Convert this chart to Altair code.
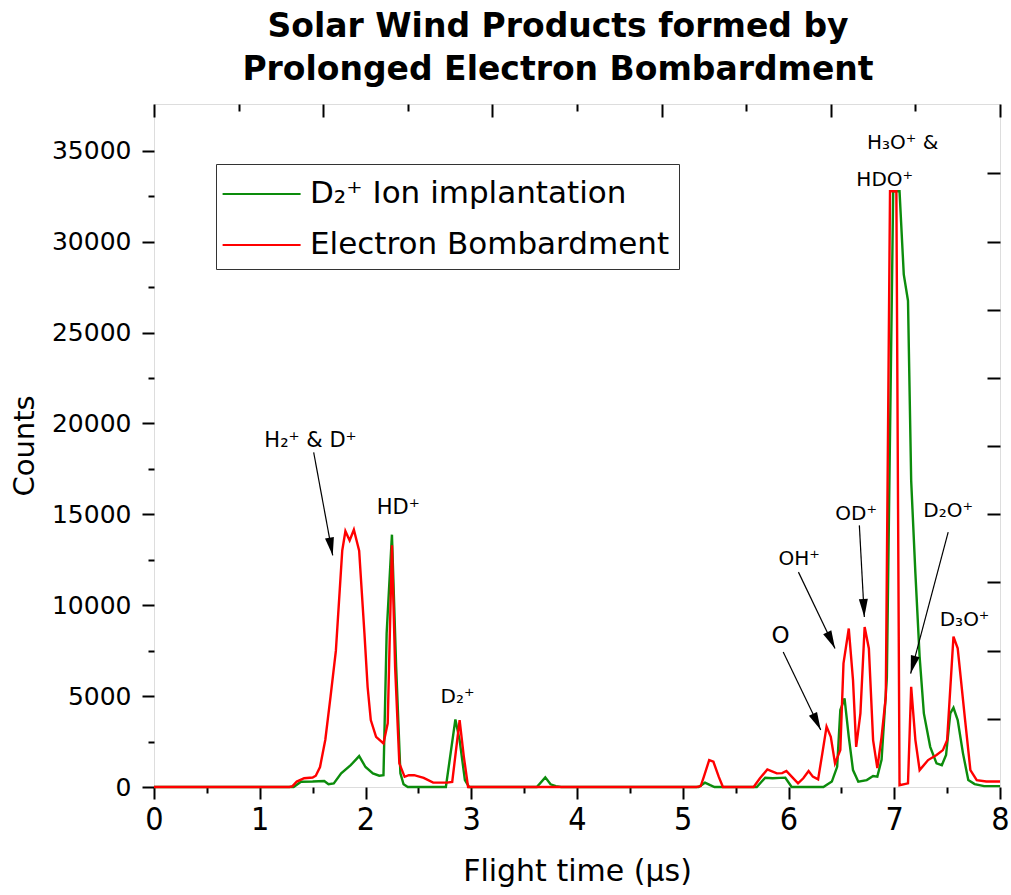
import math
import altair as alt
import pandas as pd

# ---------------- data ----------------
series_names = ["D₂⁺ Ion implantation", "Electron Bombardment"]
series_colors = ["#0c8c0c", "#ff0000"]

green_t = [0.0, 1.32, 1.39, 1.50, 1.61, 1.65, 1.70, 1.77, 1.86, 1.94, 2.00, 2.07, 2.13, 2.17,
           2.20, 2.25, 2.29, 2.33, 2.36, 2.40, 2.76, 2.85, 2.89, 2.94, 2.98, 3.62, 3.70, 3.75,
           3.80, 3.85, 5.15, 5.21, 5.26, 5.30, 5.70, 5.78, 5.85, 5.92, 5.97, 6.03, 6.33, 6.41,
           6.46, 6.49, 6.53, 6.57, 6.61, 6.66, 6.74, 6.80, 6.84, 6.88, 6.93, 6.99, 7.05, 7.09,
           7.13, 7.16, 7.20, 7.24, 7.28, 7.34, 7.40, 7.45, 7.49, 7.53, 7.56, 7.60, 7.65, 7.70,
           7.76, 7.85, 8.00]
green_c = [0, 0, 290, 300, 330, 150, 200, 750, 1200, 1700, 1100, 750, 620, 650,
           8450, 13880, 6600, 750, 150, 0, 0, 3720, 2580, 380, 0, 0, 530, 150,
           50, 0, 0, 240, 100, 0, 0, 510, 480, 500, 510, 0, 0, 300,
           1110, 4230, 4870, 2760, 930, 290, 380, 600, 570, 1500, 6000, 32767, 32767, 28200,
           26750, 16860, 11750, 7160, 4050, 2210, 1300, 1200, 1760, 4050, 4360, 3680, 1850, 380,
           160, 50, 50]

red_t = [0.0, 1.28, 1.31, 1.35, 1.42, 1.50, 1.53, 1.57, 1.62, 1.67, 1.72, 1.78, 1.81, 1.85,
         1.89, 1.94, 1.99, 2.02, 2.05, 2.10, 2.17, 2.21, 2.25, 2.28, 2.32, 2.37, 2.41, 2.46,
         2.55, 2.64, 2.77, 2.82, 2.89, 2.93, 2.97, 5.13, 5.17, 5.20, 5.25, 5.29, 5.34, 5.38,
         5.67, 5.73, 5.80, 5.85, 5.89, 5.94, 5.98, 6.03, 6.09, 6.14, 6.19, 6.23, 6.28, 6.32,
         6.36, 6.40, 6.44, 6.49, 6.52, 6.57, 6.61, 6.64, 6.68, 6.72, 6.76, 6.80, 6.84, 6.88,
         6.92, 6.96, 7.02, 7.05, 7.13, 7.16, 7.20, 7.24, 7.32, 7.40, 7.46, 7.50, 7.56, 7.60,
         7.67, 7.72, 7.78, 7.87, 8.00]
red_c = [0, 0, 50, 300, 480, 520, 620, 1100, 2600, 5000, 7500, 13000, 14070, 13560,
         14150, 13000, 8450, 5500, 3680, 2760, 2400, 3500, 13300, 6600, 1300, 560, 650, 650,
         500, 240, 240, 280, 3680, 1660, 0, 0, 50, 570, 1480, 1390, 570, 0,
         0, 480, 970, 850, 750, 760, 880, 570, 200, 480, 880, 570, 420, 1850,
         3320, 2760, 1300, 2030, 6800, 8720, 5880, 2210, 4050, 8800, 7620, 2580, 1040, 2760,
         4960, 32767, 32767, 100, 200, 5510, 2580, 930, 1480, 1760, 2030, 2580, 8270, 7630,
         3680, 930, 380, 300, 300]

# axis tick values
x_major = [0, 1, 2, 3, 4, 5, 6, 7, 8]
x_minor = [0.5, 1.5, 2.5, 3.5, 4.5, 5.5, 6.5, 7.5]
y_major = [0, 5000, 10000, 15000, 20000, 25000, 30000, 35000]
y_minor = [2500, 7500, 12500, 17500, 22500, 27500, 32500]
top_major = [0, 1.6, 3.2, 4.8, 6.4, 8.0]
top_minor = [0.8, 2.4, 4.0, 5.6, 7.2]
right_ticks = [3750, 7500, 11250, 15000, 18750, 22500, 26250, 30000, 33750]

# peak annotations
ann_text = ["H₂⁺ & D⁺", "HD⁺", "D₂⁺", "O", "OH⁺", "OD⁺", "D₂O⁺", "D₃O⁺", "H₃O⁺  &", "HDO⁺"]
ann_t = [1.48, 2.31, 2.87, 5.925, 6.10, 6.64, 7.51, 7.665, 7.08, 6.91]
ann_c = [19050, 15320, 4940, 8320, 12520, 14990, 15160, 9170, 35420, 33380]
ann_fs = [21, 21, 20, 23, 20, 20, 20, 20, 20, 20]

# arrows (start -> tip)
arr_t0 = [1.51, 5.95, 6.094, 6.67, 7.51]
arr_c0 = [18410, 7430, 11820, 14390, 14020]
arr_t1 = [1.69, 6.305, 6.44, 6.717, 7.155]
arr_c1 = [12740, 3130, 7620, 9350, 6240]

# ---------------- chart ----------------
W, H = 846, 683
XMAX, YMAX = 8.0, 37570
FONT = "DejaVu Sans"

df = pd.concat([
    pd.DataFrame({"t": green_t, "c": green_c, "series": series_names[0]}),
    pd.DataFrame({"t": red_t, "c": red_c, "series": series_names[1]}),
])

xs = alt.Scale(domain=[0, XMAX], nice=False, zero=False)
ys = alt.Scale(domain=[0, YMAX], nice=False)
cs = alt.Scale(domain=series_names, range=series_colors)

legend = alt.Legend(
    title=None, orient="none", legendX=62, legendY=60,
    symbolType="M-1.2,0L2.8,0", symbolSize=1521, symbolStrokeWidth=2.2,
    labelFont=FONT, labelFontSize=31, labelOffset=43, labelLimit=0,
    rowPadding=15, padding=9, strokeColor="#333333", fillColor="white",
)

ax_bottom = alt.Axis(orient="bottom", values=x_major, tickSize=12, tickWidth=2, tickColor="black",
                     domain=False, grid=False,
                     labelFont="Liberation Sans Narrow, DejaVu Sans Condensed, Liberation Sans",
                     labelFontSize=32, labelPadding=5, labelFlush=False, labelOverlap=False,
                     labelColor="black", format="d",
                     title="Flight time (µs)", titleFont=FONT, titleFontSize=30, titleFontWeight="normal",
                     titlePadding=21, titleColor="black")
ax_left = alt.Axis(orient="left", values=y_major, tickSize=12, tickWidth=2, tickColor="black",
                   domain=False, grid=False, labelFont=FONT, labelFontSize=25, labelPadding=11,
                   labelFlush=False, labelOverlap=False, labelColor="black", format="d",
                   title="Counts", titleFont=FONT, titleFontSize=29, titleFontWeight="normal",
                   titlePadding=12, titleColor="black")

green = alt.Chart(df).transform_filter(alt.datum.series == series_names[0]).mark_line(
    strokeWidth=2.4).encode(
    x=alt.X("t:Q", scale=xs, axis=ax_bottom),
    y=alt.Y("c:Q", scale=ys, axis=ax_left),
    color=alt.Color("series:N", scale=cs, legend=legend),
)
red = alt.Chart(df).transform_filter(alt.datum.series == series_names[1]).mark_line(
    strokeWidth=2.4).encode(
    x=alt.X("t:Q", scale=xs, axis=None),
    y=alt.Y("c:Q", scale=ys, axis=None),
    color=alt.Color("series:N", scale=cs, legend=legend),
)

frame_df = pd.DataFrame({"t": [0.0, XMAX], "c": [0, YMAX]})


def tick_layer(xaxis, yaxis):
    return alt.Chart(frame_df).mark_point(opacity=0).encode(
        x=alt.X("t:Q", scale=xs, axis=xaxis),
        y=alt.Y("c:Q", scale=ys, axis=yaxis),
    )


minor_out = tick_layer(
    alt.Axis(orient="bottom", values=x_minor, tickSize=6, tickWidth=2, tickColor="black",
             domain=False, grid=False, labels=False, title=None),
    alt.Axis(orient="left", values=y_minor, tickSize=6, tickWidth=2, tickColor="black",
             domain=False, grid=False, labels=False, title=None),
)
major_in = tick_layer(
    alt.Axis(orient="top", values=top_major, tickSize=13, tickWidth=2, tickColor="black", offset=-13,
             domain=False, grid=False, labels=False, title=None),
    alt.Axis(orient="right", values=right_ticks, tickSize=13, tickWidth=2, tickColor="black", offset=-13,
             domain=False, grid=False, labels=False, title=None),
)
minor_in = tick_layer(
    alt.Axis(orient="top", values=top_minor, tickSize=7, tickWidth=2, tickColor="black", offset=-7,
             domain=False, grid=False, labels=False, title=None),
    None,
)

ann_df = pd.DataFrame({"label": ann_text, "t": ann_t, "c": ann_c, "fs": ann_fs})
texts = alt.Chart(ann_df).mark_text(font=FONT, color="black", align="center", baseline="middle").encode(
    x=alt.X("t:Q", scale=xs, axis=None),
    y=alt.Y("c:Q", scale=ys, axis=None),
    text="label:N",
    size=alt.Size("fs:Q", scale=None),
)

angles = []
for a0, b0, a1, b1 in zip(arr_t0, arr_c0, arr_t1, arr_c1):
    dx = (a1 - a0) / XMAX * W
    dy = (b0 - b1) / YMAX * H
    angles.append(math.degrees(math.atan2(dx, -dy)) % 360)

arr_df = pd.DataFrame({"t0": arr_t0, "c0": arr_c0, "t1": arr_t1, "c1": arr_c1, "ang": angles})
arrow_lines = alt.Chart(arr_df).mark_rule(color="black", strokeWidth=1.2).encode(
    x=alt.X("t0:Q", scale=xs, axis=None),
    y=alt.Y("c0:Q", scale=ys, axis=None),
    x2="t1:Q",
    y2="c1:Q",
)
arrow_heads = alt.Chart(arr_df).mark_point(
    shape="M0,0L-0.25,1L0.25,1Z", filled=True, color="black", size=1296, opacity=1, strokeWidth=0
).encode(
    x=alt.X("t1:Q", scale=xs, axis=None),
    y=alt.Y("c1:Q", scale=ys, axis=None),
    angle=alt.Angle("ang:Q", scale=None),
)

chart = alt.layer(
    green, red, minor_out, major_in, minor_in, arrow_lines, arrow_heads, texts
).resolve_axis(x="independent", y="independent").properties(
    width=W, height=H,
    padding={"left": 154, "top": 104, "right": 11, "bottom": 108},
    autosize=alt.AutoSizeParams(type="none"),
    title=alt.TitleParams(
        ["Solar Wind Products formed by", "Prolonged Electron Bombardment"],
        font=FONT, fontSize=33, fontWeight="bold", lineHeight=43, color="black",
        anchor="middle", dx=-19, offset=14,
    ),
).configure_view(stroke="black", strokeWidth=2).configure(background="white")

chart.save("out.html", embed_options={"renderer": "svg", "actions": False})
